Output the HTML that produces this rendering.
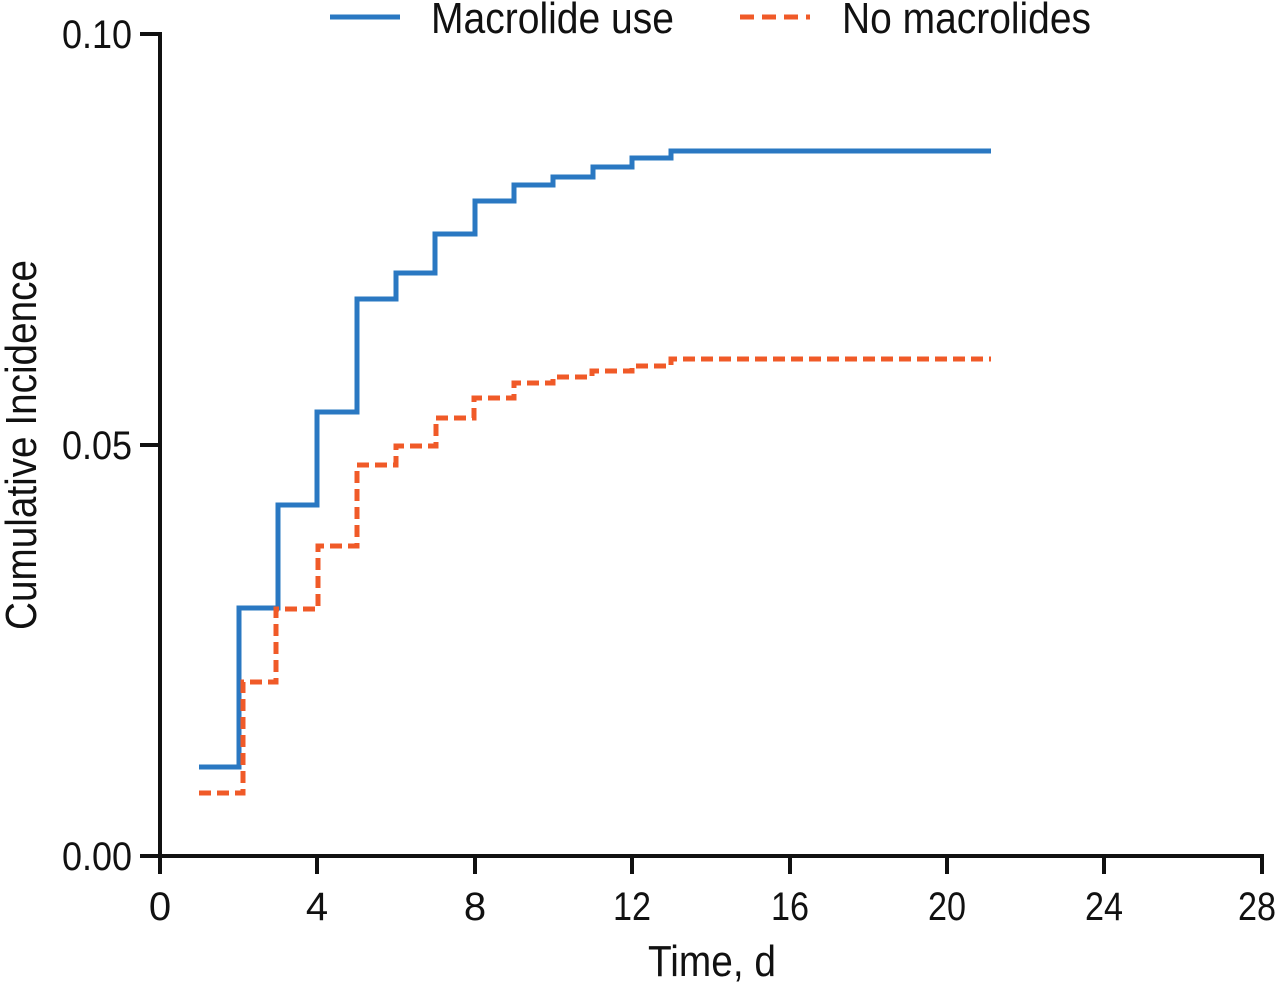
<!DOCTYPE html>
<html><head><meta charset="utf-8"><style>
body{margin:0;background:#fff;}
svg text{font-family:"Liberation Sans Narrow","Liberation Sans",sans-serif;fill:#111;}
</style></head><body>
<svg width="1280" height="984" viewBox="0 0 1280 984" xmlns="http://www.w3.org/2000/svg">
<g stroke="#111" stroke-width="4" fill="none">
<line x1="160" y1="32" x2="160" y2="858"/>
<line x1="158" y1="856" x2="1264" y2="856"/>
<line x1="140" y1="34" x2="160" y2="34"/>
<line x1="140" y1="445" x2="160" y2="445"/>
<line x1="140" y1="856" x2="160" y2="856"/>
<line x1="160" y1="856" x2="160" y2="874"/>
<line x1="317" y1="856" x2="317" y2="874"/>
<line x1="475" y1="856" x2="475" y2="874"/>
<line x1="632" y1="856" x2="632" y2="874"/>
<line x1="790" y1="856" x2="790" y2="874"/>
<line x1="947" y1="856" x2="947" y2="874"/>
<line x1="1104" y1="856" x2="1104" y2="874"/>
<line x1="1262" y1="856" x2="1262" y2="874"/>
</g>
<g font-size="40">
<text x="62" y="48" textLength="70" lengthAdjust="spacingAndGlyphs">0.10</text>
<text x="62" y="459" textLength="70" lengthAdjust="spacingAndGlyphs">0.05</text>
<text x="62" y="870" textLength="70" lengthAdjust="spacingAndGlyphs">0.00</text>
</g>
<g font-size="40" text-anchor="middle">
<text x="160" y="920">0</text><text x="317" y="920">4</text><text x="475" y="920">8</text>
<text x="632" y="920" textLength="38" lengthAdjust="spacingAndGlyphs">12</text>
<text x="790" y="920" textLength="38" lengthAdjust="spacingAndGlyphs">16</text>
<text x="947" y="920" textLength="38" lengthAdjust="spacingAndGlyphs">20</text>
<text x="1104" y="920" textLength="38" lengthAdjust="spacingAndGlyphs">24</text>
<text x="1257" y="920" textLength="38" lengthAdjust="spacingAndGlyphs">28</text>
</g>
<text x="648" y="976" font-size="44" textLength="128" lengthAdjust="spacingAndGlyphs">Time, d</text>
<text transform="translate(36,630) rotate(-90)" font-size="44" textLength="370" lengthAdjust="spacingAndGlyphs">Cumulative Incidence</text>
<path fill="none" stroke="#2a78c2" stroke-width="5" d="M199 767H239V608H278V505H317V412H357V299H396V273H435V234H475V201H514V185H553V177H593V167H632V158H671V151H991"/>
<path fill="none" stroke="#f05a28" stroke-width="5" stroke-dasharray="12,6" d="M199 793H243V682H276V609H318V546H357V465H396V446H436V418H474V398H514V383H553V377H592V371H632V366H671V359H991"/>
<line x1="330" y1="17" x2="400" y2="17" stroke="#2a78c2" stroke-width="5"/>
<line x1="740" y1="17" x2="810" y2="17" stroke="#f05a28" stroke-width="5" stroke-dasharray="14,8"/>
<text x="431" y="33" font-size="44" textLength="243" lengthAdjust="spacingAndGlyphs">Macrolide use</text>
<text x="842" y="33" font-size="44" textLength="249" lengthAdjust="spacingAndGlyphs">No macrolides</text>
</svg>
</body></html>
